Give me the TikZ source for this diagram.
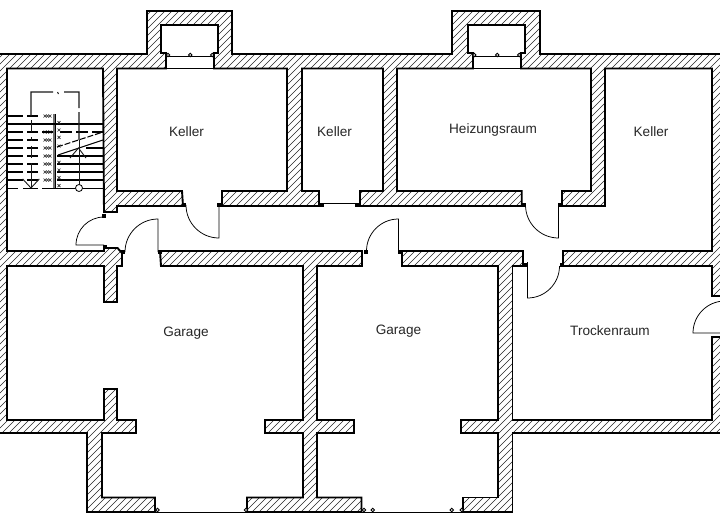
\documentclass[tikz,border=0pt]{standalone}
\usepackage{fontspec}
\setmainfont{Liberation Sans}
\tikzset{
  wallline/.style={draw=black,line width=1.9pt,line join=miter},
  hatchline/.style={draw=black!85,line width=0.55pt},
  thinline/.style={draw=black,line width=0.75pt},
  roomlabel/.style={font=\fontsize{13.6}{15}\selectfont,text=black!85,inner sep=0pt},
  jamb/.style={fill=black,draw=none},
  pin/.style={draw=black,line width=0.9pt,fill=white},
  tread/.style={draw=black,line width=1.05pt},
  walkline/.style={draw=black!90,line width=0.9pt},
  xmark/.style={draw=black!85,line width=0.65pt}
}
\newcommand{\pieceA}{(730,54) -- (540,54) -- (540,11) -- (452,11) -- (452,54) -- (232,54) -- (232,11) -- (147,11) -- (147,54) -- (-5,54) -- (-5,433) -- (87,433) -- (87,512) -- (155,512) -- (155,497.5) -- (102,497.5) -- (102,433) -- (136,433) -- (136,420) -- (117,420) -- (117,389) -- (104,389) -- (104,420) -- (7,420) -- (7,266) -- (104,266) -- (104,302) -- (117,302) -- (117,266) -- (122,266) -- (122,253) -- (117.5,248) -- (104,248) -- (104,251) -- (7,251) -- (7,68.5) -- (103,68.5) -- (104,212) -- (117,212) -- (117,206) -- (183,206) -- (182,191) -- (117,191) -- (117,68.5) -- (166,68.5) -- (166,53) -- (161,53) -- (161,25) -- (218,25) -- (218,53) -- (214,53) -- (214,68.5) -- (287,68.5) -- (287,191) -- (222,191) -- (222,206) -- (319,206) -- (319,191) -- (302,191) -- (302,68.5) -- (383,68.5) -- (383,191) -- (360,191) -- (360,206) -- (521.7,206) -- (521.7,191) -- (397,191) -- (397,68.5) -- (473,68.5) -- (473,53) -- (468,53) -- (468,25) -- (525,25) -- (525,53) -- (521,53) -- (521,68.5) -- (591,68.5) -- (591,191) -- (562,191) -- (562,206) -- (605,206) -- (605,68.5) -- (712,68.5) -- (712,251) -- (563,251) -- (563,266) -- (712,266) -- (712,296) -- (730,296) -- cycle}
\newcommand{\pieceB}{(160,251) -- (362,251) -- (362,266) -- (317,266) -- (317,420) -- (354,420) -- (354,433) -- (317,433) -- (317,497.5) -- (361.5,497.5) -- (361.5,512) -- (247,512) -- (247,497.5) -- (303,497.5) -- (303,433) -- (265,433) -- (265,420) -- (303,420) -- (303,266) -- (161,266) -- cycle}
\newcommand{\pieceC}{(730,337) -- (712,337) -- (712,420) -- (512.5,420) -- (512.5,266) -- (523,266) -- (523,251) -- (402,251) -- (402,266) -- (498,266) -- (498,420) -- (461,420) -- (461,433) -- (498,433) -- (498,497.5) -- (463,497.5) -- (463,512) -- (512.5,512) -- (512.5,433) -- (730,433) -- cycle}
\newcommand{\hatchall}{\foreach \k in {-560,-553,...,740} {\draw[hatchline] (\k,540) -- (\k+540,0);}}
\begin{document}
\begin{tikzpicture}[x=1pt,y=-1pt]
\useasboundingbox (0,0) rectangle (720,530);
\clip (0,0) rectangle (720,530);
% wall hatching
\begin{scope}\clip \pieceA; \hatchall \end{scope}
\begin{scope}\clip \pieceB; \hatchall \end{scope}
\begin{scope}\clip \pieceC; \hatchall \end{scope}
\draw[wallline] \pieceA;
\draw[wallline] \pieceB;
\draw[wallline] \pieceC;
% chimney niches
\draw[thinline] (166,56.5) -- (214,56.5);
\draw[thinline] (473,56.5) -- (521,56.5);
\draw[wallline] (166,68.5) -- (214,68.5);
\draw[wallline] (473,68.5) -- (521,68.5);
\foreach \x in {168,190.3,212.3,474.3,497.3,519.3} \draw[pin] (\x,55) circle (1.7);
% garage door lines and pins
\draw[thinline] (155,512.5) -- (247,512.5);
\draw[thinline] (361.5,512.5) -- (463,512.5);
\foreach \x in {157.5,246,364,372.7,451.7,461.7} \draw[pin] (\x,510) circle (1.8);
% Keller 2 opening, jambs
\draw[thinline] (322,203.5) -- (357,203.5);
\foreach \x/\y in {183.5/205,219/205,321.7/205,357.3/205,523.5/205,559.5/205,104/216,104.5/247,123/252,159.5/252,365.5/252,400/252,525/265,562/265}
  \fill[jamb] (\x-2,\y-1.8) rectangle (\x+2,\y+1.8);
% door leaves and swings
\draw[thinline] (219,206) -- (219,238) arc[start angle=90,end angle=180,radius=33];
\draw[thinline] (104,245) -- (76,245) arc[start angle=180,end angle=270,radius=28];
\draw[thinline] (158,252) -- (158,219) arc[start angle=270,end angle=180,radius=33];
\draw[thinline] (398.5,252) -- (398.5,219) arc[start angle=270,end angle=180,radius=32];
\draw[thinline] (558.5,206) -- (558.5,238) arc[start angle=90,end angle=180,radius=33];
\draw[thinline] (527.5,262) -- (527.5,298) arc[start angle=90,end angle=0,radius=32];
\draw[thinline] (725,333) -- (693,333) arc[start angle=180,end angle=270,radius=32];
% staircase: stringer
\draw[draw=black!55,line width=2pt] (53.5,114) -- (53.5,188);
\draw[draw=black,line width=1.2pt] (55.8,114) -- (55.8,188);
% staircase: treads left of stringer
\foreach \y in {116,132,140,148,156,164,172,180} {
  \draw[tread] (8,\y) -- (23,\y) (27,\y) -- (38,\y);
  \foreach \x in {45,47.5,50} {
    \draw[xmark] (\x-1.5,\y-1.5) -- (\x+1.5,\y+1.5) (\x-1.5,\y+1.5) -- (\x+1.5,\y-1.5);
  }
}
\draw[tread] (8,124) -- (103,124);
\draw[tread,line width=1.3pt] (42,132) -- (53,132) (60,132) -- (72,132) (76,132) -- (88,132) (92,132) -- (103,132);
% right of stringer
\foreach \y in {156,164,172,180} \draw[tread] (57,\y) -- (103,\y);
\draw[tread] (86,148) -- (103,148);
\draw[tread] (8,188.3) -- (18,188.3) (23,188.3) -- (38,188.3) (42,188.3) -- (103,188.3);
\foreach \y in {122.7,130,137.3,146,162.3,170,177.7,185.7} {
  \draw[xmark] (57.5,\y-1.5) -- (60.5,\y+1.5) (57.5,\y+1.5) -- (60.5,\y-1.5);
}
% cut lines
\draw[tread,dash pattern=on 6pt off 2pt] (57,147) -- (103,132);
\draw[tread] (58,155) -- (103,140);
% walking line
\draw[walkline,line width=1.1pt] (31,116) -- (31,92) -- (53,92) (57.5,92) -- (58.5,94) (64,92) -- (79,92) -- (79,108) (79,112) -- (79,140);
\draw[walkline] (31,120) -- (31,132) (31,137) -- (31,141) (31,146) -- (31,158) (31,163) -- (31,188);
\draw[walkline] (22.7,179) -- (31,188) -- (39.3,179);
\draw[walkline] (79,140) -- (79,185);
\draw[walkline] (70,158) -- (78.5,148) -- (86,158);
\node[circle,draw=black,line width=0.8pt,fill=white,minimum size=7pt,inner sep=0pt] (stairstart) at (79,188) {};
% labels
\node[roomlabel] (k1) at (186.5,131.5) {Keller};
\node[roomlabel] (k2) at (334.5,131.5) {Keller};
\node[roomlabel] (hz) at (493,129.5) {Heizungsraum};
\node[roomlabel] (k4) at (651,131.5) {Keller};
\node[roomlabel] (g1) at (186,333) {Garage};
\node[roomlabel] (g2) at (398.5,331) {Garage};
\node[roomlabel] (tr) at (610,331) {Trockenraum};
\end{tikzpicture}
\end{document}
